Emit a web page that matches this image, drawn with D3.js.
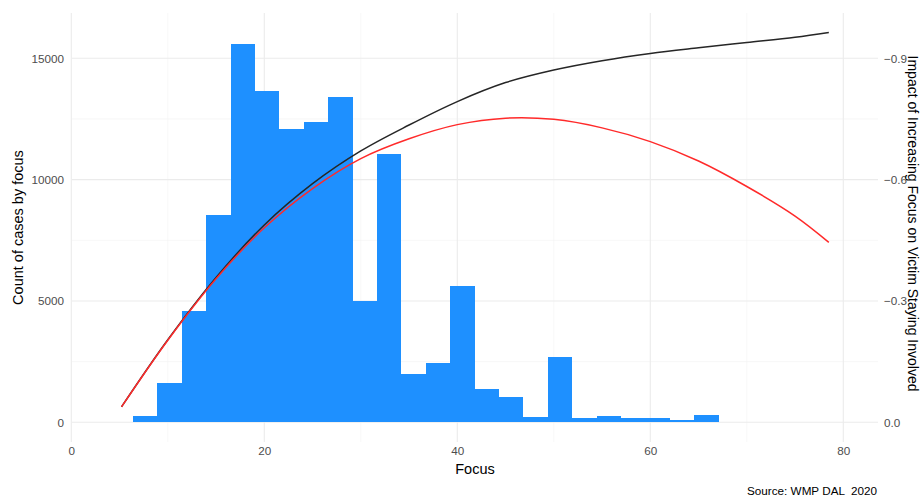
<!DOCTYPE html>
<html><head><meta charset="utf-8">
<script src="https://cdn.jsdelivr.net/npm/d3@7"></script>
<style>
html,body{margin:0;padding:0;background:#fff;}
svg{display:block;font-family:"Liberation Sans",Arial,Helvetica,sans-serif;}
</style></head>
<body><svg id="chart" width="920" height="498"></svg>
<script>
// ---- data ----
const binWidth = 2.528;
const binStart = [3.86, 6.39, 8.92, 11.45, 13.98, 16.50, 19.03, 21.56, 24.09, 26.62, 29.15, 31.67, 34.20, 36.73, 39.26,
  41.79, 44.31, 46.84, 49.37, 51.90, 54.43, 56.95, 59.48, 62.01, 64.54, 67.07, 69.60, 72.12, 74.65, 77.18];
const binCount = [0, 270, 1620, 4590, 8540, 15580, 13650, 12070, 12370, 13400, 5010, 11040, 1990, 2430, 5620,
  1370, 1060, 230, 2680, 190, 270, 190, 180, 105, 310, 0, 0, 0, 0, 0];

const lineX = [5.2, 10, 15, 20, 25, 30, 35, 40, 45, 50, 55, 60, 65, 70, 75, 78.5];
const impactBlack = [-0.038, -0.204, -0.358, -0.488, -0.590, -0.671, -0.735, -0.793, -0.840, -0.871, -0.894,
  -0.912, -0.926, -0.939, -0.952, -0.964];
const impactRed = [-0.038, -0.203, -0.355, -0.481, -0.578, -0.652, -0.701, -0.736, -0.752, -0.749, -0.728,
  -0.694, -0.646, -0.583, -0.510, -0.445];

const xTicks = [0, 20, 40, 60, 80];
const xMinor = [10, 30, 50, 70];
const yTicks = [0, 5000, 10000, 15000];
const yMinor = [2500, 7500, 12500];
const rTicks = [0, -0.3, -0.6, -0.9];

const xTitle = "Focus";
const yTitle = "Count of cases by focus";
const rTitle = "Impact of Increasing Focus on Victim Staying Involved";
const caption = "Source: WMP DAL  2020";

// ---- layout ----
const panel = {left: 72, right: 878, top: 13, bottom: 442};
const svg = d3.select("#chart");

const x = d3.scaleLinear().domain([0, 80]).range([71.3, 843.3]);
const yL = d3.scaleLinear().domain([0, 15000]).range([422.3, 58.3]);
const yR = d3.scaleLinear().domain([0, -0.9]).range([422.3, 58.3]);

const grid = svg.append("g");
grid.selectAll(".hmin").data(yMinor).join("line")
  .attr("x1", panel.left).attr("x2", panel.right)
  .attr("y1", d => yL(d)).attr("y2", d => yL(d))
  .attr("stroke", "#f2f2f2").attr("stroke-width", 0.6);
grid.selectAll(".vmin").data(xMinor).join("line")
  .attr("y1", panel.top).attr("y2", panel.bottom)
  .attr("x1", d => x(d)).attr("x2", d => x(d))
  .attr("stroke", "#f2f2f2").attr("stroke-width", 0.6);
grid.selectAll(".hmaj").data(yTicks).join("line")
  .attr("x1", panel.left).attr("x2", panel.right)
  .attr("y1", d => yL(d)).attr("y2", d => yL(d))
  .attr("stroke", "#ebebeb").attr("stroke-width", 1.1);
grid.selectAll(".vmaj").data(xTicks).join("line")
  .attr("y1", panel.top).attr("y2", panel.bottom)
  .attr("x1", d => x(d)).attr("x2", d => x(d))
  .attr("stroke", "#ebebeb").attr("stroke-width", 1.1);

// bars
const bins = binStart.map((s, i) => ({x0: s, x1: s + binWidth, n: binCount[i]}));
svg.append("g").attr("shape-rendering", "crispEdges")
  .selectAll("rect").data(bins.filter(d => d.n > 0)).join("rect")
  .attr("x", d => x(d.x0)).attr("width", d => x(d.x1) - x(d.x0))
  .attr("y", d => yL(d.n)).attr("height", d => yL(0) - yL(d.n))
  .attr("fill", "#1E90FF");

// lines
const line = d3.line().x(d => x(d[0])).y(d => yR(d[1])).curve(d3.curveCatmullRom.alpha(0.5));
svg.append("path").datum(lineX.map((v, i) => [v, impactBlack[i]]))
  .attr("d", line).attr("fill", "none").attr("stroke", "#262626").attr("stroke-width", 1.5);
svg.append("path").datum(lineX.map((v, i) => [v, impactRed[i]]))
  .attr("d", line).attr("fill", "none").attr("stroke", "#ff2a2a").attr("stroke-width", 1.5);

// axes
const tickColor = "#4d4d4d";
function style(g) {
  g.select(".domain").remove();
  g.selectAll(".tick line").remove();
  g.selectAll("text").attr("fill", tickColor).style("font-size", "11.7px")
    .style("font-family", '"Liberation Sans",Arial,sans-serif');
}
svg.append("g").attr("transform", `translate(${panel.left},0)`)
  .call(d3.axisLeft(yL).tickValues(yTicks).tickSize(0).tickPadding(8).tickFormat(d3.format("d")))
  .call(style);
svg.append("g").attr("transform", `translate(${panel.right},0)`)
  .call(d3.axisRight(yR).tickValues(rTicks).tickSize(0).tickPadding(6).tickFormat(d3.format(".1f")))
  .call(style);
svg.append("g").attr("transform", `translate(0,${panel.bottom})`)
  .call(d3.axisBottom(x).tickValues(xTicks).tickSize(0).tickPadding(5).tickFormat(d3.format("d")))
  .call(style);

// titles
const cx = (panel.left + panel.right) / 2, cy = (panel.top + panel.bottom) / 2;
svg.append("text").attr("x", cx).attr("y", 474).attr("text-anchor", "middle")
  .style("font-size", "14.5px").attr("fill", "#000").text(xTitle);
svg.append("text").attr("transform", `translate(23,${cy}) rotate(-90)`).attr("text-anchor", "middle")
  .style("font-size", "14.5px").attr("fill", "#000").text(yTitle);
svg.append("text").attr("transform", `translate(908,${cy - 4}) rotate(90)`).attr("text-anchor", "middle")
  .style("font-size", "14px").attr("fill", "#000").text(rTitle);
svg.append("text").attr("x", 877).attr("y", 495).attr("text-anchor", "end")
  .style("font-size", "11.7px").style("white-space", "pre").attr("fill", "#000").text(caption);
</script></body></html>
